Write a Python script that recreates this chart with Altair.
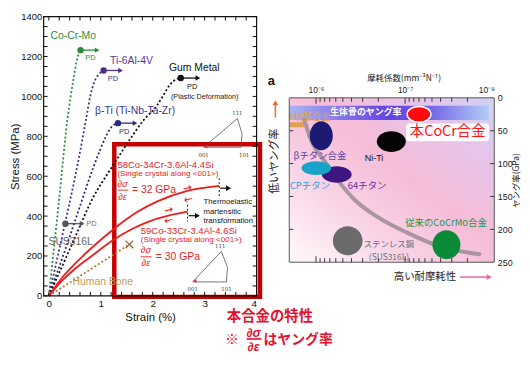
import altair as alt
import pandas as pd

FONT = "Liberation Sans"
JP = "Noto Sans CJK JP"

# ---------------- left panel: stress (MPa) vs strain (%) ----------------
cocrmo_strain = [0, 0.2, 0.36, 0.42, 0.48, 0.53, 0.57, 0.61]
cocrmo_stress = [0, 490, 890, 1000, 1095, 1170, 1210, 1232]
ti64_strain = [0, 0.3, 0.5, 0.65, 0.74, 0.8, 0.865, 0.96, 1.055]
ti64_stress = [0, 350, 590, 790, 920, 1005, 1065, 1110, 1130]
betati_strain = [0, 0.3, 0.6, 0.85, 1.0, 1.1, 1.2, 1.27, 1.33]
betati_stress = [0, 220, 450, 640, 740, 800, 845, 860, 866]
gum_strain = [0, 0.5, 0.83, 1.2, 1.5, 1.82, 2.07, 2.2, 2.33, 2.45, 2.54]
gum_stress = [0, 290, 482, 640, 760, 880, 950, 1003, 1058, 1085, 1092]
bone_strain = [0, 1.55]
bone_stress = [0, 258]
cocr58_strain = [0, 0.25, 0.5, 0.8, 1.24, 1.7, 2.1, 2.65, 3.28]
cocr58_stress = [0, 90, 160, 235, 333, 420, 475, 525, 551]
cocr59_strain = [0, 0.25, 0.5, 0.8, 1.24, 1.6, 1.95, 2.3, 2.67]
cocr59_stress = [0, 75, 135, 195, 280, 335, 375, 402, 422]

pd_names = ["Co-Cr-Mo", "Ti-6Al-4V", "β-Ti", "Gum Metal", "SUS316L"]
pd_strain = [0.61, 1.055, 1.33, 2.54, 0.32]
pd_stress = [1232, 1130, 866, 1092, 362]
pd_arrow_end = [0.98, 1.43, 1.71, 2.92, 0.69]
pd_colors = ["#2e8b3d", "#4c2f88", "#2c2a7e", "#111111", "#555555"]

# inverse pole figure triangles (001, 111, arc, 101, 001)
ipf_strain_a = [2.98, 3.63, 3.72, 3.70, 2.98]
ipf_stress_a = [745, 889, 814, 745, 745]
ipf_strain_b = [2.77, 3.32, 3.44, 3.42, 2.77]
ipf_stress_b = [70, 223, 144, 70, 70]

# ---------------- right panel: wear coefficient vs Young's modulus ----------------
mat_names = ["本CoCr合金", "βチタン合金", "Ni-Ti", "CPチタン", "64チタン", "ステンレス鋼", "従来のCoCrMo合金"]
mat_wear = [6.98e-8, 8.73e-7, 1.43e-7, 9.9e-7, 5.85e-7, 4.41e-7, 3.44e-8]
mat_modulus = [25.1, 57.7, 66.5, 106.9, 116.5, 217.4, 223.4]
mg_wear = [10 ** -5.7, 1.36e-6]
mg_modulus = 41
bone_band_wear = [10 ** -5.7, 1.15e-8]
bone_band_modulus = [12, 33.6]
trend_wear = [1.36e-6, 1.17e-6, 7.74e-7, 5.41e-7, 3.69e-7, 2.05e-7, 9.5e-8, 4.08e-8, 1.47e-8]
trend_modulus = [32, 60, 99, 129, 155, 181, 205, 226, 238]

one = pd.DataFrame({"k": [0]})
WL, HL = 215, 282
WR, HR = 207, 166

XL = alt.X("strain:Q", scale=alt.Scale(domain=[-0.1, 4.0], nice=False, zero=False),
           axis=alt.Axis(values=[0, 1, 2, 3, 4], format="d", title="Strain (%)", ticks=False, domain=False,
                         grid=False, labelPadding=3, labelFontSize=10, labelFont=FONT,
                         labelColor="#111", titleFont=FONT, titleFontSize=11.5,
                         titleFontWeight="normal", titlePadding=3, titleColor="#111"))
YL = alt.Y("stress:Q", scale=alt.Scale(domain=[0, 1400], nice=False, zero=False),
           axis=alt.Axis(values=[0, 200, 400, 600, 800, 1000, 1200, 1400], format="d", title="Stress (MPa)",
                         ticks=False, domain=False, grid=False, labelPadding=2, labelFontSize=9.5,
                         labelFont=FONT, labelColor="#111", titleFont=FONT, titleFontSize=11.5,
                         titleFontWeight="normal", titlePadding=0, titleColor="#111"))


def long_df(series):
    rows = []
    for name, col, xs, ys in series:
        for i, (a, b) in enumerate(zip(xs, ys)):
            rows.append({"name": name, "col": col, "strain": a, "stress": b, "order": i})
    return pd.DataFrame(rows)


dotted_df = long_df([
    ("Co-Cr-Mo", pd_colors[0], cocrmo_strain, cocrmo_stress),
    ("Ti-6Al-4V", pd_colors[1], ti64_strain, ti64_stress),
    ("β-Ti", pd_colors[2], betati_strain, betati_stress),
    ("Gum Metal", pd_colors[3], gum_strain, gum_stress),
    ("Human Bone", "#b07f3e", bone_strain, bone_stress),
])
red_df = long_df([
    ("58Co", "#ec1c1c", cocr58_strain, cocr58_stress),
    ("59Co", "#ec1c1c", cocr59_strain, cocr59_stress),
])
ipf_df = long_df([
    ("a", "#555", ipf_strain_a, ipf_stress_a),
    ("b", "#555", ipf_strain_b, ipf_stress_b),
])

dotted = alt.Chart(dotted_df).mark_line(strokeDash=[2, 2.2], strokeWidth=1.8, interpolate="monotone").encode(
    x=XL, y=YL, color=alt.Color("col:N", scale=None), detail="name:N", order="order:Q")
red_lines = alt.Chart(red_df).mark_line(strokeWidth=1.8, interpolate="monotone").encode(
    x=XL, y=YL, color=alt.Color("col:N", scale=None), detail="name:N", order="order:Q")
ipf = alt.Chart(ipf_df).mark_line(strokeWidth=0.8, interpolate="linear").encode(
    x=XL, y=YL, color=alt.Color("col:N", scale=None), detail="name:N", order="order:Q")

pdf = pd.DataFrame({"name": pd_names, "strain": pd_strain, "stress": pd_stress,
                    "strain2": [e - 0.06 for e in pd_arrow_end], "tip": [e - 0.05 for e in pd_arrow_end],
                    "col": pd_colors})
pd_rules = alt.Chart(pdf).mark_rule(strokeWidth=1.3).encode(
    x=XL, x2=alt.X2("strain2:Q"), y=YL, color=alt.Color("col:N", scale=None))
pd_heads = alt.Chart(pdf).mark_point(shape="triangle-right", filled=True, size=30, opacity=1).encode(
    x=alt.X("tip:Q", scale=alt.Scale(domain=[-0.1, 4.0], nice=False, zero=False)), y=YL,
    color=alt.Color("col:N", scale=None))
pd_dots = alt.Chart(pdf).mark_circle(size=42, opacity=1).encode(
    x=XL, y=YL, color=alt.Color("col:N", scale=None))

bone_x = alt.Chart(pd.DataFrame({"strain": [bone_strain[1]], "stress": [bone_stress[1]]})).mark_point(
    shape="M -1 -1 L 1 1 M -1 1 L 1 -1", size=60, strokeWidth=1.3, color="#a0622a", opacity=1).encode(x=XL, y=YL)

# end-of-curve markers
end_df = pd.DataFrame({"strain": [3.28, 2.67], "stress": [590, 457], "stress2": [491, 372]})
end_rules = alt.Chart(end_df).mark_rule(strokeDash=[2, 2], strokeWidth=1, color="#222").encode(
    x=XL, y=YL, y2=alt.Y2("stress2:Q"))
earr_df = pd.DataFrame({"strain": [3.30, 2.69], "strain2": [3.44, 2.84], "stress": [540, 402],
                        "tip": [3.46, 2.86]})
earr_rules = alt.Chart(earr_df).mark_rule(strokeWidth=1.2, color="#111").encode(
    x=XL, x2=alt.X2("strain2:Q"), y=YL)
earr_heads = alt.Chart(earr_df).mark_point(shape="triangle-right", filled=True, size=34, opacity=1,
                                           color="#111").encode(
    x=alt.X("tip:Q", scale=alt.Scale(domain=[-0.1, 4.0], nice=False, zero=False)), y=YL)

red_box = alt.Chart(pd.DataFrame({"strain": [1.26], "strain2": [4.065], "stress": [760], "stress2": [-5]})).mark_rect(
    fillOpacity=0, stroke="#c40000", strokeWidth=4.5).encode(
    x=XL, x2=alt.X2("strain2:Q"), y=YL, y2=alt.Y2("stress2:Q"))


def ltext(labels, xs, ys, cols, **mk):
    df = pd.DataFrame({"label": labels, "strain": xs, "stress": ys, "col": cols})
    return alt.Chart(df).mark_text(**mk).encode(x=XL, y=YL, text="label:N",
                                                color=alt.Color("col:N", scale=None))


lt_names = ltext(["Co-Cr-Mo", "Ti-6Al-4V", "Gum Metal", "β-Ti (Ti-Nb-Ta-Zr)", "SUS316L", "Human Bone"],
                 [0.47, 1.59, 2.80, 1.66, 0.42, 1.04], [1304, 1177, 1143, 928, 268, 71],
                 ["#2e8b3d", "#5b3a98", "#111111", "#3b3390", "#666666", "#c49a5c"],
                 font=FONT, fontSize=10.5, baseline="middle")
lt_pd = ltext(["PD", "PD", "PD", "PD", "PD"], [0.80, 1.235, 1.45, 2.76, 0.82], [1193, 1086, 821, 1049, 362],
              ["#2e8b3d", "#4c2f88", "#2c2a7e", "#111111", "#777777"], font=FONT, fontSize=7.5, baseline="middle")
lt_plastic = ltext(["(Plastic Deformation)"], [3.0], [998], ["#222222"], font=FONT, fontSize=7.3,
                   baseline="middle")
lt_red1 = ltext(["58Co-34Cr-3.6Al-4.4Si", "59Co-33Cr-3.4Al-4.6Si"], [1.32, 1.77], [657, 326],
                ["#e8231f", "#e8231f"], font=FONT, fontSize=9.6, align="left", baseline="middle")
lt_red2 = ltext(["(Single crystal along <001>)", "(Single crystal along <001>)"], [1.32, 1.77], [609, 278],
                ["#e8231f", "#e8231f"], font=FONT, fontSize=8.2, align="left", baseline="middle")
lt_frac = ltext(["∂σ", "∂ε", "∂σ", "∂ε"], [1.42, 1.42, 1.87, 1.87], [563, 497, 229, 164],
                ["#e8231f"] * 4, font=FONT, fontSize=9.5, fontStyle="italic", baseline="middle")
lt_gpa = ltext(["= 32 GPa", "= 30 GPa"], [1.60, 2.06], [530, 196], ["#e8231f"] * 2,
               font=FONT, fontSize=10.5, align="left", baseline="middle")
frac_bars = alt.Chart(pd.DataFrame({"strain": [1.33, 1.77], "strain2": [1.53, 1.98], "stress": [530, 196]})).mark_rule(
    strokeWidth=0.9, color="#e8231f").encode(x=XL, x2=alt.X2("strain2:Q"), y=YL)
lt_thermo = ltext(["Thermoelastic", "martensitic", "transformation"], [2.98, 2.98, 2.98], [470, 421, 376],
                  ["#111111"] * 3, font=FONT, fontSize=7.8, align="left", baseline="middle")
lt_arrows = ltext(["→", "←", "→", "←"], [2.67, 2.69, 2.31, 2.31], [538, 482, 428, 377], ["#ec1c1c"] * 4,
                  font="DejaVu Sans", fontSize=11, angle=346, baseline="middle")
lt_ipf = ltext(["111", "001", "101", "111", "001", "101"], [3.63, 2.98, 3.76, 3.30, 2.77, 3.42],
               [916, 705, 705, 250, 35, 35], ["#444444"] * 6, font="DejaVu Serif", fontSize=5.5,
               baseline="middle")
ipf_dots = alt.Chart(pd.DataFrame({"strain": [3.02, 2.81], "stress": [750, 75]})).mark_point(
    shape="triangle-left", filled=True, size=14, color="#e8231f", opacity=1).encode(x=XL, y=YL)

# inward ticks of the left panel
yt = pd.DataFrame({"stress": list(range(0, 1401, 50))})
xt = pd.DataFrame({"strain": [round(i * 0.2, 1) for i in range(21)]})
tk = dict(color="#111", strokeWidth=1)
l_ticks = [
    alt.Chart(yt).mark_rule(**tk).encode(x=alt.value(0), x2=alt.value(4), y=YL),
    alt.Chart(yt).mark_rule(**tk).encode(x=alt.value(WL - 4), x2=alt.value(WL), y=YL),
    alt.Chart(xt).mark_rule(**tk).encode(y=alt.value(0), y2=alt.value(4), x=XL),
    alt.Chart(xt).mark_rule(**tk).encode(y=alt.value(HL - 4), y2=alt.value(HL), x=XL),
]
l_frame = alt.Chart(one).mark_rect(fillOpacity=0, stroke="#111", strokeWidth=1.2).encode(
    x=alt.value(0), x2=alt.value(WL), y=alt.value(0), y2=alt.value(HL))


def ptext(txt, x, y, **mk):
    return alt.Chart(one).mark_text(text=txt, **mk).encode(x=alt.value(x), y=alt.value(y))


RED2 = "#e3122f"
bottom_notes = [
    ptext("本合金の特性", 185, 303, font=JP, fontSize=14.5, fontWeight="bold", color=RED2, align="left",
          baseline="middle"),
    ptext("※", 190, 326.5, font=JP, fontSize=14, fontWeight="bold", color=RED2, baseline="middle"),
    ptext("∂σ", 212, 319.5, font=FONT, fontSize=12.5, fontWeight="bold", fontStyle="italic", color=RED2,
          baseline="middle"),
    ptext("∂ε", 212, 333.5, font=FONT, fontSize=12.5, fontWeight="bold", fontStyle="italic", color=RED2,
          baseline="middle"),
    alt.Chart(one).mark_rule(color=RED2, strokeWidth=1.6).encode(x=alt.value(205), x2=alt.value(220),
                                                                 y=alt.value(325.5)),
    ptext("はヤング率", 222, 326.5, font=JP, fontSize=14, fontWeight="bold", color=RED2, align="left",
          baseline="middle"),
]

left = alt.layer(
    red_box, dotted, bone_x, red_lines, ipf, ipf_dots, pd_rules, pd_heads, pd_dots,
    end_rules, earr_rules, earr_heads,
    lt_names, lt_pd, lt_plastic, lt_red1, lt_red2, lt_frac, frac_bars, lt_gpa, lt_thermo, lt_arrows, lt_ipf,
    *l_ticks, l_frame, *bottom_notes,
).properties(width=WL, height=HL)

# ---------------- right panel ----------------
XR = alt.X("w:Q", scale=alt.Scale(type="log", domain=[1e-8, 10 ** -5.7], reverse=True, nice=False),
           axis=alt.Axis(orient="top", values=[1e-6, 1e-7, 1e-8],
                         labelExpr="datum.value > 5e-7 ? '10⁻⁶' : (datum.value > 5e-8 ? '10⁻⁷' : '10⁻⁸')",
                         ticks=False, domain=False, grid=False, title=None, labelFontSize=8.5,
                         labelPadding=3, labelFont=FONT, labelColor="#222"))
YR = alt.Y("E:Q", scale=alt.Scale(domain=[0, 250], reverse=True, nice=False, zero=False),
           axis=alt.Axis(orient="right", values=[0, 50, 100, 150, 200, 250], ticks=False, domain=False,
                         grid=False, labelPadding=3, labelFontSize=9, labelFont=FONT, labelColor="#222",
                         title="ヤング率(GPa)", titleAngle=270, titleFont=JP, titleFontSize=8.5,
                         titleFontWeight="normal", titlePadding=8, titleColor="#222"))

bg_grad = alt.LinearGradient(gradient="linear", x1=0, y1=1, x2=1, y2=0, stops=[
    alt.GradientStop(color="#fffafc", offset=0),
    alt.GradientStop(color="#f9d3e6", offset=0.3),
    alt.GradientStop(color="#f6bcd8", offset=0.55),
    alt.GradientStop(color="#e6c4e9", offset=0.8),
    alt.GradientStop(color="#cfd2f5", offset=1)])
band_grad = alt.LinearGradient(gradient="linear", x1=0, y1=0, x2=1, y2=0, stops=[
    alt.GradientStop(color="#aab6f2", offset=0),
    alt.GradientStop(color="#7f6cea", offset=0.3),
    alt.GradientStop(color="#6343e3", offset=0.5),
    alt.GradientStop(color="#6e5ce6", offset=0.68),
    alt.GradientStop(color="#b2cdf4", offset=1)])

bg = alt.Chart(one).mark_rect(fill=bg_grad).encode(x=alt.value(0), x2=alt.value(WR), y=alt.value(0),
                                                  y2=alt.value(HR))
band = alt.Chart(pd.DataFrame({"w": [bone_band_wear[0]], "w2": [bone_band_wear[1]], "E": [bone_band_modulus[0]],
                               "E2": [bone_band_modulus[1]]})).mark_rect(fill=band_grad).encode(
    x=XR, x2=alt.X2("w2:Q"), y=YR, y2=alt.Y2("E2:Q"))
mg_bar = alt.Chart(pd.DataFrame({"w": [mg_wear[0]], "w2": [mg_wear[1]], "E": [mg_modulus]})).mark_rule(
    strokeWidth=5, color="#dca152").encode(x=XR, x2=alt.X2("w2:Q"), y=YR)
trend = alt.Chart(pd.DataFrame({"w": trend_wear, "E": trend_modulus, "o": list(range(len(trend_wear)))})).mark_line(
    strokeWidth=4, color="#9e8b96", opacity=0.85, interpolate="monotone", strokeCap="round").encode(
    x=XR, y=YR, order="o:Q")


def ellipse(ratio):
    k = 0.5523
    r = ratio
    return (f"M -1 0 C -1 {-k * r:.4f} {-k:.4f} {-r:.4f} 0 {-r:.4f} "
            f"C {k:.4f} {-r:.4f} 1 {-k * r:.4f} 1 0 "
            f"C 1 {k * r:.4f} {k:.4f} {r:.4f} 0 {r:.4f} "
            f"C {-k:.4f} {r:.4f} -1 {k * r:.4f} -1 0 Z")


ell_w = [24, 23.3, 29.3, 30, 30, 30, 28.3]
ell_h = [16, 29.3, 21, 14, 16.7, 29.3, 29.3]
ell_fill = ["#ff0a0a", "#1c1a72", "#050505", "#1aa3c9", "#3e1680", "#6b6b6b", "#0b8a3a"]
draw_order = [4, 3, 1, 2, 5, 6, 0]
ellipses = []
for i in draw_order:
    extra = dict(stroke="white", strokeWidth=1.5) if i == 0 else dict(strokeWidth=0)
    ellipses.append(
        alt.Chart(pd.DataFrame({"w": [mat_wear[i]], "E": [mat_modulus[i]]})).mark_point(
            shape=ellipse(ell_h[i] / ell_w[i]), size=ell_w[i] ** 2, filled=True, fill=ell_fill[i],
            opacity=1, **extra).encode(x=XR, y=YR))

cocr_box = alt.Chart(pd.DataFrame({"w": [9.75e-8], "w2": [1.14e-8], "E": [39], "E2": [66]})).mark_rect(
    color="white", cornerRadius=3, opacity=0.95).encode(x=XR, x2=alt.X2("w2:Q"), y=YR, y2=alt.Y2("E2:Q"))


def rtext(labels, ws, es, cols, **mk):
    df = pd.DataFrame({"label": labels, "w": ws, "E": es, "col": cols})
    return alt.Chart(df).mark_text(**mk).encode(x=XR, y=YR, text="label:N", color=alt.Color("col:N", scale=None))


r_texts = [
    rtext(["生体骨のヤング率"], [2.76e-7], [22], ["#ffffff"], font=JP, fontSize=9, fontWeight="bold",
          baseline="middle"),
    rtext(["Mg基合金"], [1.17e-6], [29.6], ["#e3a04a"], font=JP, fontSize=9.5, baseline="middle"),
    rtext(["本CoCr合金"], [3.33e-8], [52], ["#ff1414"], font=JP, fontSize=14.5, baseline="middle"),
    rtext(["βチタン合金", "CPチタン", "64チタン"], [9.04e-7, 1.17e-6, 2.67e-7], [89, 134, 134],
          ["#5b3fa0", "#26a8dc", "#6c2ea8"], font=JP, fontSize=9.5, baseline="middle"),
    rtext(["Ni-Ti"], [2.23e-7], [92], ["#111111"], font=FONT, fontSize=9, baseline="middle"),
    rtext(["ステンレス鋼", "(SUS316L)"], [1.52e-7, 1.52e-7], [222, 242], ["#707070", "#707070"],
          font=JP, fontSize=8.5, baseline="middle"),
    rtext(["従来のCoCrMo合金"], [3.48e-8], [191], ["#1a9a4a"], font=JP, fontSize=9.5, baseline="middle"),
]

major_w = pd.DataFrame({"w": [1e-6, 1e-7]})
minor_w = pd.DataFrame({"w": [9e-7, 8e-7, 7e-7, 6e-7, 5e-7, 4e-7, 3e-7, 2e-7,
                              9e-8, 8e-8, 7e-8, 6e-8, 5e-8, 4e-8, 3e-8, 2e-8]})
e_ticks = pd.DataFrame({"E": [50, 100, 150, 200]})
rtk = dict(color="#333", strokeWidth=1)
r_ticks = [
    alt.Chart(major_w).mark_rule(**rtk).encode(x=XR, y=alt.value(0), y2=alt.value(6)),
    alt.Chart(minor_w).mark_rule(**rtk).encode(x=XR, y=alt.value(0), y2=alt.value(4)),
    alt.Chart(major_w).mark_rule(**rtk).encode(x=XR, y=alt.value(HR - 6), y2=alt.value(HR)),
    alt.Chart(minor_w).mark_rule(**rtk).encode(x=XR, y=alt.value(HR - 4), y2=alt.value(HR)),
    alt.Chart(e_ticks).mark_rule(**rtk).encode(y=YR, x=alt.value(0), x2=alt.value(4)),
    alt.Chart(e_ticks).mark_rule(**rtk).encode(y=YR, x=alt.value(WR - 4), x2=alt.value(WR)),
]
r_frame = alt.Chart(one).mark_rect(fillOpacity=0, stroke="#555", strokeWidth=1).encode(
    x=alt.value(0), x2=alt.value(WR), y=alt.value(0), y2=alt.value(HR))

r_outside = [
    ptext("a", -18, -17, font=FONT, fontSize=13, fontWeight="bold", color="#111", baseline="middle"),
    ptext("摩耗係数(mm⁻³N⁻¹)", 116, -20, font=JP, fontSize=8.5, color="#222", baseline="middle"),
    ptext("低いヤング率", -14, 64, font=JP, fontSize=11, color="#222", angle=270, baseline="middle"),
    alt.Chart(one).mark_rule(color="#f26a2e", strokeWidth=1.5).encode(x=alt.value(-14), y=alt.value(20),
                                                                     y2=alt.value(7)),
    alt.Chart(one).mark_point(shape="triangle-up", filled=True, size=35, color="#f26a2e", opacity=1).encode(
        x=alt.value(-14), y=alt.value(5)),
    ptext("高い耐摩耗性", 137, 181, font=JP, fontSize=10.5, color="#222", baseline="middle"),
    alt.Chart(one).mark_rule(color="#f55fb0", strokeWidth=1.5).encode(x=alt.value(172), x2=alt.value(200),
                                                                     y=alt.value(181)),
    alt.Chart(one).mark_point(shape="triangle-right", filled=True, size=35, color="#f55fb0", opacity=1).encode(
        x=alt.value(202), y=alt.value(181)),
]

right = alt.layer(bg, band, mg_bar, trend, *ellipses, cocr_box, *r_texts, *r_ticks, r_frame,
                  *r_outside).properties(width=WR, height=HR)

spacer = alt.Chart(one).mark_point(opacity=0).encode(x=alt.value(0), y=alt.value(0)).properties(
    width=WR, height=82)

chart = alt.hconcat(
    left,
    alt.vconcat(spacer, right, spacing=0, bounds="flush"),
    spacing=33, bounds="flush",
).properties(padding={"left": 1, "top": 2, "right": 2, "bottom": 2}).configure(font=FONT).configure_view(
    stroke=None)

chart.save("out.html", embed_options={"renderer": "svg", "actions": False})
